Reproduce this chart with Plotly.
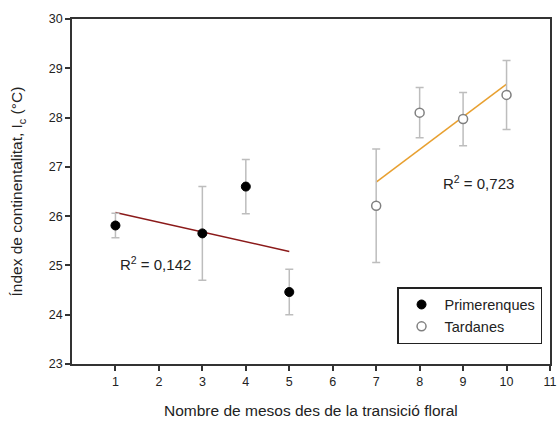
import numpy as np
import plotly.graph_objects as go

# Mean continentality index by months since floral transition
early_months = [1, 3, 4, 5]
early_ic = [25.81, 25.65, 26.60, 24.46]
early_err = [0.25, 0.95, 0.55, 0.46]

late_months = [7, 8, 9, 10]
late_ic = [26.21, 28.10, 27.97, 28.46]
late_err = [1.15, 0.51, 0.54, 0.70]

x_ticks = list(range(1, 12))
y_ticks = list(range(23, 31))

font_family = "Liberation Sans, Arial, sans-serif"


def linear_fit(x, y):
    x = np.asarray(x, float)
    y = np.asarray(y, float)
    slope, intercept = np.polyfit(x, y, 1)
    xs = np.array([x.min(), x.max()])
    pred = slope * x + intercept
    r2 = 1 - np.sum((y - pred) ** 2) / np.sum((y - y.mean()) ** 2)
    return xs, slope * xs + intercept, r2


fig = go.Figure()

ex, ey, er2 = linear_fit(early_months, early_ic)
lx, ly, lr2 = linear_fit(late_months, late_ic)

fig.add_trace(go.Scatter(x=ex, y=ey, mode="lines", showlegend=False,
                         line=dict(color="#8b1a1a", width=1.5)))
fig.add_trace(go.Scatter(x=lx, y=ly, mode="lines", showlegend=False,
                         line=dict(color="#e8a030", width=1.5)))

fig.add_trace(go.Scatter(
    x=early_months, y=early_ic, mode="markers", name="Primerenques",
    marker=dict(color="black", size=9, line=dict(color="black", width=1)),
    error_y=dict(type="data", array=early_err, color="#bdbdbd", thickness=1.5, width=4),
))
fig.add_trace(go.Scatter(
    x=late_months, y=late_ic, mode="markers", name="Tardanes",
    marker=dict(color="white", size=9, line=dict(color="#808080", width=1.5)),
    error_y=dict(type="data", array=late_err, color="#bdbdbd", thickness=1.5, width=4),
))

fig.add_annotation(x=1.91, y=25.03, text="R<sup>2</sup> = 0,142", showarrow=False,
                   font=dict(size=15, color="#222"), xanchor="center", yanchor="middle")
fig.add_annotation(x=9.36, y=26.69, text="R<sup>2</sup> = 0,723", showarrow=False,
                   font=dict(size=15, color="#222"), xanchor="center", yanchor="middle")

# Axis titles placed as paper annotations so the plot area stays fixed
fig.add_annotation(x=0.5, y=-0.135, xref="paper", yref="paper",
                   text="Nombre de mesos des de la transició floral", showarrow=False,
                   font=dict(size=15.5, color="#222"), xanchor="center", yanchor="middle")
fig.add_annotation(x=-0.113, y=0.5, xref="paper", yref="paper", textangle=-90,
                   text="Índex de continentalitat, I<sub>c</sub> (°C)", showarrow=False,
                   font=dict(size=15.5, color="#222"), xanchor="center", yanchor="middle")

axis_common = dict(
    showline=True, linecolor="#333", linewidth=1.5, mirror=True,
    ticks="outside", ticklen=5, tickwidth=1.5, tickcolor="#333",
    showgrid=False, zeroline=False, automargin=False,
    tickfont=dict(size=12.5, color="#222", family=font_family),
)

fig.update_xaxes(range=[0, 11], tickvals=x_ticks, **axis_common)
fig.update_yaxes(range=[23, 30], tickvals=y_ticks, **axis_common)

fig.update_layout(
    width=558, height=421,
    margin=dict(l=72, r=8, t=19, b=57),
    paper_bgcolor="white", plot_bgcolor="white",
    font=dict(family=font_family, color="#222"),
    legend=dict(x=0.68, y=0.223, xanchor="left", yanchor="top",
                bordercolor="#222", borderwidth=1.5, bgcolor="white",
                font=dict(size=14.5), itemwidth=36, tracegroupgap=0),
)

fig.write_html("out.html")
